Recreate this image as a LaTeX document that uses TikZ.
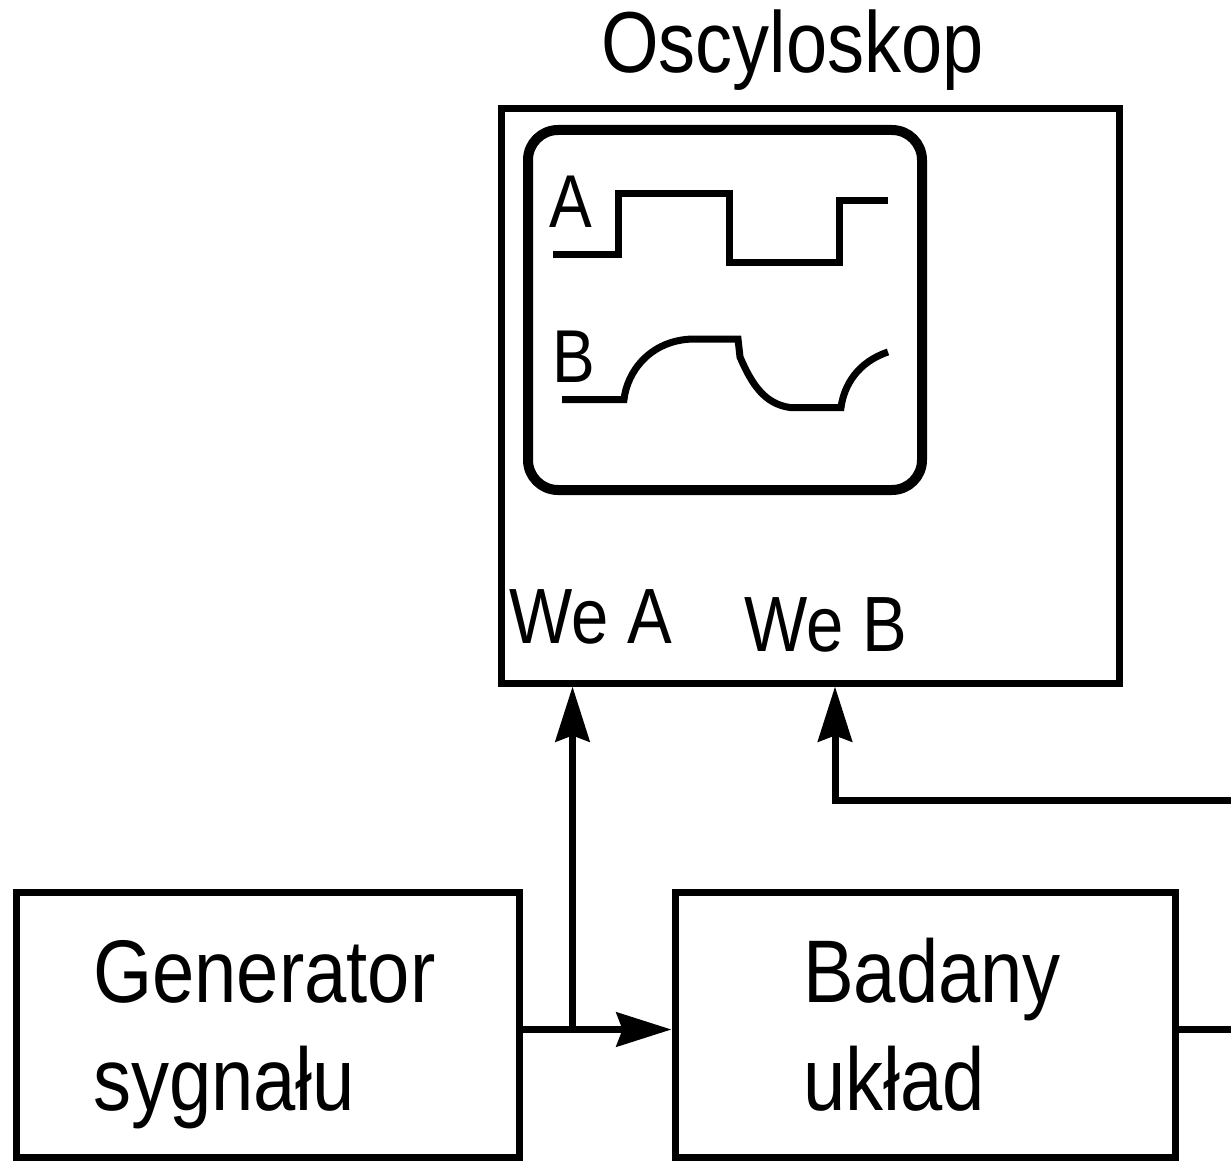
\documentclass[tikz,border=0pt]{standalone}
\usepackage{fontspec}
\setmainfont{Liberation Sans}
\usetikzlibrary{arrows.meta}
\newcommand{\rozc}[1]{\scalebox{1}[1.17]{#1}}

\begin{document}
\begin{tikzpicture}[x=1pt, y=1pt,
    blok/.style={rectangle, draw, line width=7pt, minimum width=#1, minimum height=265pt, inner sep=0pt},
    opis/.style={inner sep=0pt, anchor=base west, font=\fontsize{76}{93}\selectfont},
    wej/.style={inner sep=0pt, anchor=base west, font=\fontsize{67}{80}\selectfont},
    kanal/.style={inner sep=0pt, anchor=base west, font=\fontsize{64}{76}\selectfont},
    fala/.style={line width=7pt},
    strz/.style={line width=7pt, -{Stealth[length=55pt, width=34pt, inset=6pt]}}
]
    \useasboundingbox (0,0) rectangle (1231,-1161);

    % Oscyloskop
    \node[blok=618pt, minimum height=574pt] (osc) at (810,-396) {};
    \node[opis, font=\fontsize{74}{90}\selectfont] (oscOpis) at (601,-73) {\rozc{Oscyloskop}};
    \node[draw, line width=10pt, rounded corners=30pt, minimum width=394pt, minimum height=360pt] (ekran) at (725,-310) {};

    % Przebiegi A i B
    \node[kanal] (kanA) at (549,-227) {\rozc{A}};
    \node[kanal] (kanB) at (552,-382) {\rozc{B}};
    \draw[fala] (553,-254.5) -- (618,-254.5) -- (618,-193.5) -- (729,-193.5) -- (729,-262)
        -- (839.5,-262) -- (839.5,-201) -- (888,-201);
    \draw[fala] (562,-399.5) -- (624,-399.5) .. controls (627,-372) and (650,-340) .. (693,-339)
        -- (738,-339) -- (740,-357) .. controls (752,-385) and (765,-404) .. (790,-407.5)
        -- (841,-407.5) .. controls (844,-385) and (858,-362) .. (888,-352);

    % Wejscia
    \node[wej] (weA) at (509,-643) {\rozc{We A}};
    \node[wej] (weB) at (744,-651) {\rozc{We B}};

    % Generator i badany uklad
    \node[blok=503pt] (gen) at (267.5,-1024.5) {};
    \node[opis] (genOpis) at (93,-1002) {\rozc{\begin{tabular}[t]{@{}l@{}}Generator\\sygnału\end{tabular}}};
    \node[blok=500pt] (bad) at (925,-1024.5) {};
    \node[opis] (badOpis) at (803,-1002) {\rozc{\begin{tabular}[t]{@{}l@{}}Badany\\układ\end{tabular}}};

    % Polaczenia
    \coordinate (j) at (572.5,-1029.5);
    \coordinate (wyB) at (1240,-800);
    \coordinate (wyU) at (1240,-1029.5);
    \draw[strz] (gen.east |- j) -- (bad.west |- j);
    \draw[strz] (j) -- (j |- osc.south);
    \draw[strz] (wyB) -| ([xshift=25pt]osc.south);
    \draw[fala] (bad.east |- j) -- (wyU);
\end{tikzpicture}
\end{document}
